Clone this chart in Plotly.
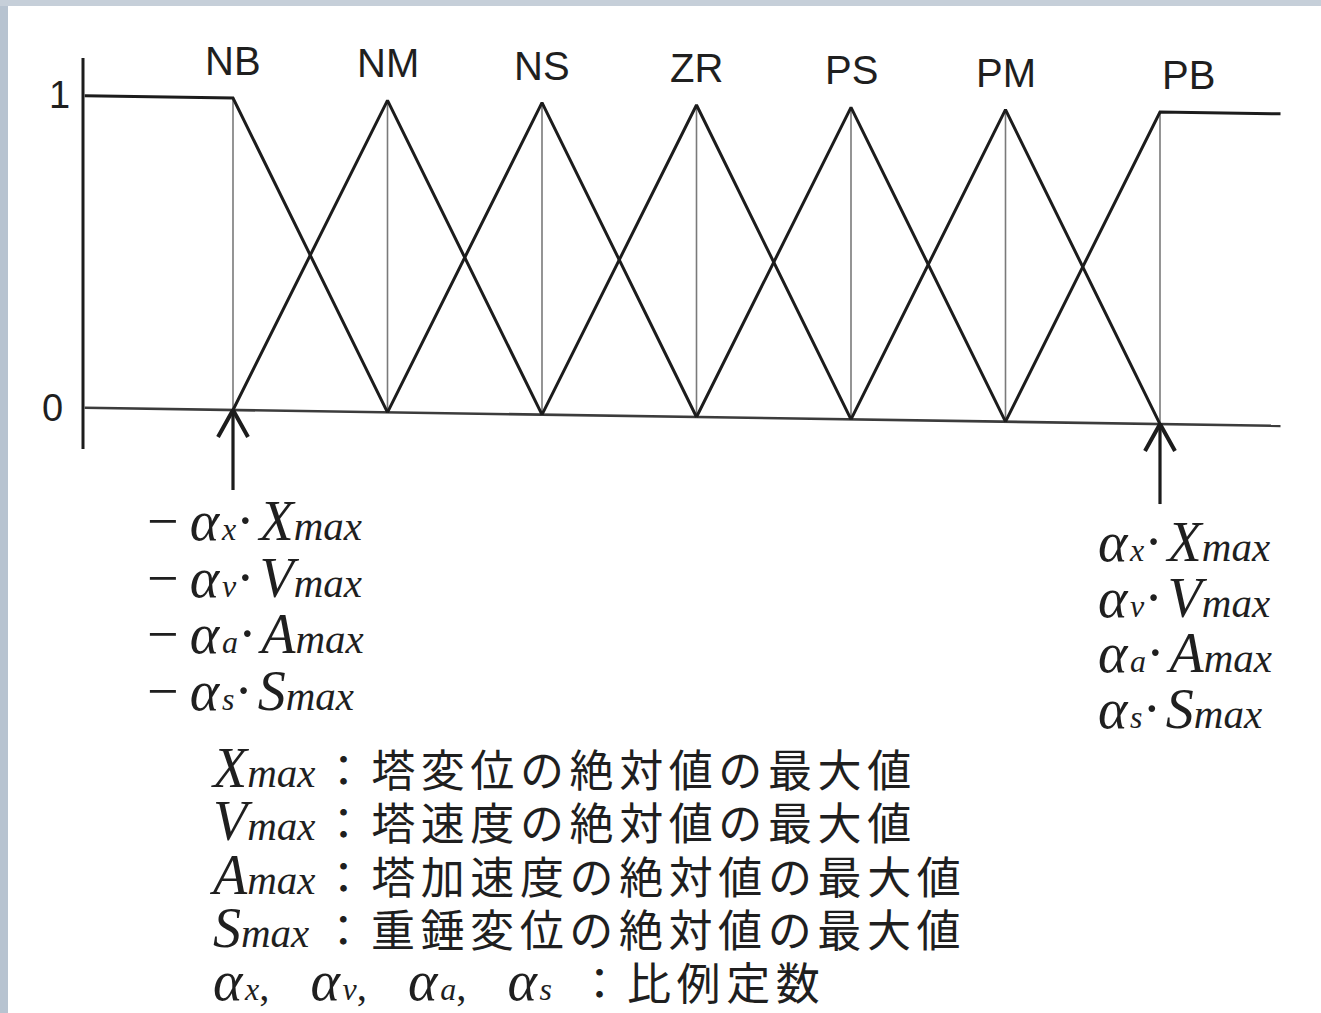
import plotly.graph_objects as go

# fuzzy labels and their centres (normalised universe, NB..PB = -3..3)
labels = ["NB", "NM", "NS", "ZR", "PS", "PM", "PB"]
centers = [-3, -2, -1, 0, 1, 2, 3]
x_left, x_right = -3.96, 3.78

# text content
sub_letters = ["x", "v", "a", "s"]
big_letters = ["X", "V", "A", "S"]
descriptions = [
    "塔変位の絶対値の最大値",
    "塔速度の絶対値の最大値",
    "塔加速度の絶対値の最大値",
    "重錘変位の絶対値の最大値",
]
const_text = "比例定数"

W, H = 1321, 1013
# pixel mapping of the data axes
X0_PX, UX = 233, 154.5
Y0_PX, UY = 410, 312
skew = 0.0075  # the scan is slightly rotated

def tilt(xs, ys):
    return [y - skew * (x + 3) for x, y in zip(xs, ys)]

def px(v):
    return v / W

def py(v):
    return 1 - v / H

fig = go.Figure()

def add_line(xs, ys, color, width, skewed=True):
    fig.add_trace(go.Scatter(x=xs, y=tilt(xs, ys) if skewed else ys, mode="lines",
                             line=dict(color=color, width=width),
                             hoverinfo="skip", showlegend=False))

# thin vertical guides at every centre
for c in centers:
    add_line([c, c], [0, 1], "#7a7a7a", 1.6)

# base line
add_line([x_left, x_right], [0, 0], "#3c3c3c", 2.6)

# membership functions
for i, c in enumerate(centers):
    if i == 0:
        xs, ys = [x_left, c, c + 1], [1, 1, 0]
    elif i == len(centers) - 1:
        xs, ys = [c - 1, c, x_right], [0, 1, 1]
    else:
        xs, ys = [c - 1, c, c + 1], [0, 1, 0]
    add_line(xs, ys, "#1c1c1c", 3.0)

# y axis line
xa = (83 - X0_PX) / UX - 3
add_line([xa, xa], [(Y0_PX - 449) / UY, (Y0_PX - 58) / UY], "#1c1c1c", 3.0, skewed=False)

# arrows pointing at the ends of the universe
for c in (centers[0], centers[-1]):
    tip = tilt([c], [0])[0]
    L, dx, dy = 80 / UY, 15 / UX, 27 / UY
    add_line([c, c], [tip - L, tip], "#1c1c1c", 3.2, skewed=False)
    add_line([c - dx, c, c + dx], [tip - dy, tip, tip - dy], "#1c1c1c", 4.0, skewed=False)

ann = []
sans = "Liberation Sans"
serif = "Liberation Serif"
ink = "#1f1f1f"

def text(x, y, t, family, size, xanchor="left", xref="paper", yref="paper"):
    ann.append(dict(x=x, y=y, xref=xref, yref=yref, text=t, showarrow=False,
                    xanchor=xanchor, yanchor="middle", align="left",
                    font=dict(family=family, size=size, color=ink)))

# fuzzy labels
for lab, c in zip(labels, centers):
    yl = tilt([c], [1])[0] + 37 / UY
    text(c, yl, lab, sans, 40, "left" if lab == "PB" else "center", xref="x", yref="y")

# y tick labels
text(px(59), py(95), "1", sans, 38, "center")
text(px(52), py(408), "0", sans, 38, "center")

BIG = "<span style='font-size:56px'>%s</span>"
SUB = "<span style='font-size:32px'><i>&#8202;%s</i></span>"
MAX = "<span style='font-size:41px'><i>max</i></span>"
JPS = "<span style='font-family:Noto Sans CJK JP;font-size:44px;letter-spacing:5.6px'>%s</span>"
GAP = "<span style='font-size:%dpx'> </span>"

def expr(s, b, neg):
    return (BIG % (("−&#8201;" if neg else "") + "<i>α</i>") + SUB % s +
            BIG % ("·&#8202;<i>%s</i>" % b) + MAX)

# end-of-range expressions, one block on each side
left_block = "<br>".join(expr(s, b, True) for s, b in zip(sub_letters, big_letters))
right_block = "<br>".join(expr(s, b, False) for s, b in zip(sub_letters, big_letters))
text(px(145), py(606), left_block, serif, 43.6)
text(px(1096), py(625), right_block, serif, 42.8)

# legend of symbols
rows = []
for b, d in zip(big_letters, descriptions):
    pad = GAP % (48 if b == "S" else 24)
    rows.append(BIG % ("<i>%s</i>" % b) + MAX + pad + JPS % ("：" + d))
alphas = "&#8195;".join(
    BIG % "<i>α</i>" + SUB % s + ("," if i < len(sub_letters) - 1 else "")
    for i, s in enumerate(sub_letters))
rows.append(alphas + GAP % 40 + JPS % ("\u00a0：" + const_text))
text(px(207), py(874), "<br>".join(rows), serif, 41)

# bluish screen edge of the original screenshot
shapes = [
    dict(type="rect", xref="paper", yref="paper", x0=0, x1=px(8), y0=0, y1=1,
         fillcolor="#b7c3d0", line_width=0, layer="below"),
    dict(type="rect", xref="paper", yref="paper", x0=0, x1=1, y0=py(6), y1=1,
         fillcolor="#c6cfd9", line_width=0, layer="below"),
]

fig.update_layout(
    width=W, height=H,
    margin=dict(l=0, r=0, t=0, b=0),
    paper_bgcolor="white", plot_bgcolor="white",
    xaxis=dict(visible=False, range=[-3 - X0_PX / UX, -3 + (W - X0_PX) / UX], fixedrange=True),
    yaxis=dict(visible=False, range=[-(H - Y0_PX) / UY, Y0_PX / UY], fixedrange=True),
    annotations=ann, shapes=shapes,
)

fig.write_html("out.html", config={"displayModeBar": False},
               post_script="document.body.style.margin='0px';")
